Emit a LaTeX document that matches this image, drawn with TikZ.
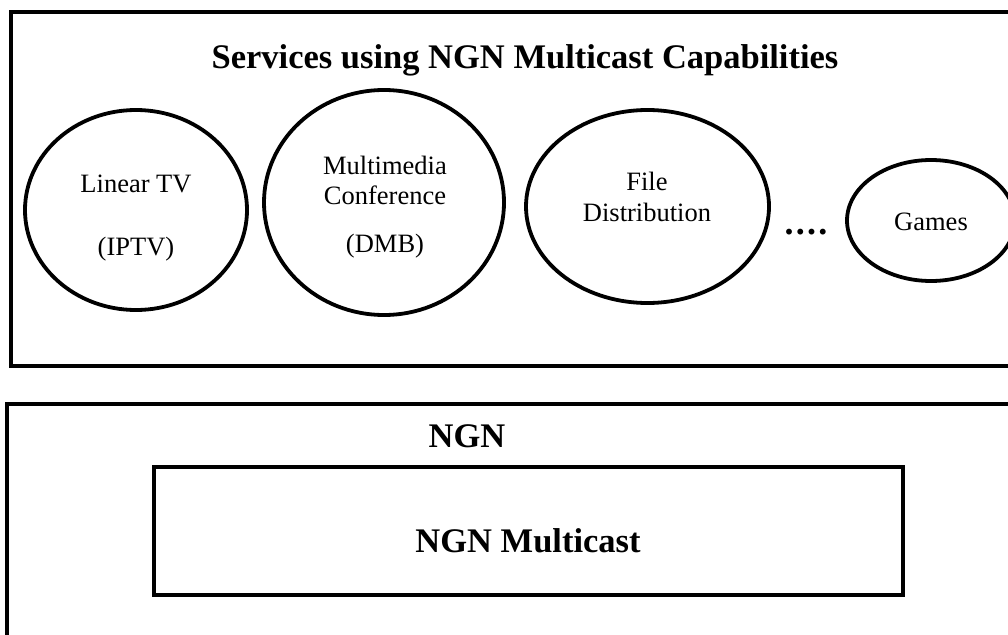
\documentclass[tikz,border=0pt]{standalone}
\usepackage{fontspec}
\setmainfont{Liberation Serif}
\usetikzlibrary{shapes.geometric}
\begin{document}
\begin{tikzpicture}[x=1pt,y=-1pt,
  frame/.style={draw, line width=4pt},
  oval/.style={draw, ellipse, line width=3.8pt, inner sep=0pt},
  lbl/.style={anchor=base, inner sep=0pt, font=\fontsize{26.5}{30}\selectfont},
  head/.style={anchor=base, inner sep=0pt, font=\fontsize{34.5}{40}\selectfont\bfseries}]
\clip (0,0) rectangle (1008,634);
% service layer frame
\draw[frame] (11,12) rectangle (1030,366);
\node[head] (title) at (525,68) {Services using NGN Multicast Capabilities};
% services
\node[oval, minimum width=222, minimum height=200] (tv) at (136,210) {};
\node[lbl] (tv1) at (136,192) {Linear TV};
\node[lbl] (tv2) at (136,255) {(IPTV)};
\node[oval, minimum width=240, minimum height=225] (mm) at (384,202.5) {};
\node[lbl] (mm1) at (385,174) {Multimedia};
\node[lbl] (mm2) at (385,204) {Conference};
\node[lbl] (mm3) at (385,252) {(DMB)};
\node[oval, minimum width=243, minimum height=193] (fd) at (647.5,206.5) {};
\node[lbl] (fd1) at (647,190) {File};
\node[lbl] (fd2) at (647,221) {Distribution};
\node[anchor=base, inner sep=0pt, font=\fontsize{36}{40}\selectfont\bfseries] (dots) at (806,234) {.\kern2.2pt.\kern2.2pt.\kern2.2pt.};
\node[oval, minimum width=168, minimum height=121] (gm) at (931,220.5) {};
\node[lbl] (gm1) at (931,230) {Games};
% network layer frame
\draw[frame] (7,404) rectangle (1030,660);
\node[head] (ngn) at (467,447) {NGN};
\node[draw, line width=3.8pt, minimum width=749, minimum height=128, inner sep=0pt] (mc) at (528.5,531) {};
\node[head] (mct) at (528,552) {NGN Multicast};
\end{tikzpicture}
\end{document}
